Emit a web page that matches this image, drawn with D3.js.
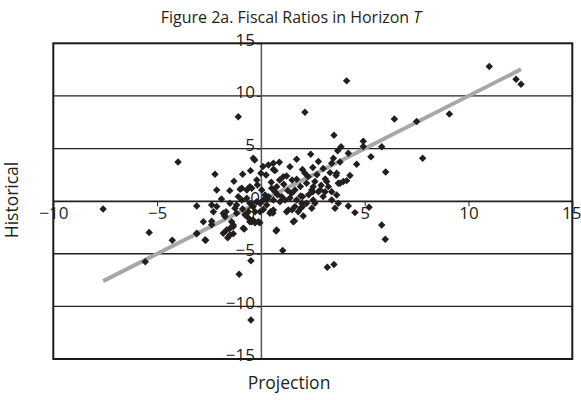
<!DOCTYPE html>
<html><head><meta charset="utf-8">
<script src="https://cdn.jsdelivr.net/npm/d3@7"></script>
<style>body{margin:0;background:#fff}svg{display:block}text{font-family:"Open Sans",sans-serif;fill:#231f20}</style>
</head><body><svg id="c" width="581" height="400"></svg>
<script>
const titleText = "Figure 2a. Fiscal Ratios in Horizon ";
const titleItalic = "T";
const xLabel = "Projection";
const yLabel = "Historical";
const xTicks = [-10, -5, 0, 5, 10, 15];
const yTicks = [-15, -10, -5, 0, 5, 10, 15];
const trendSlope = 1.0;
const trendIntercept = 0.0;
const projection = [
-7.6,-5.38,-5.57,-4.27,-3.99,-3.09,-2.66,-3.09,-2.37,-2.13,-2.77,-2.37,-2.37,-2.21,-2.13,-1.09,2.12,4.13,11.0,12.29,
12.53,9.08,6.43,7.5,7.79,3.52,4.93,4.93,5.82,3.86,3.7,4.21,5.3,4.61,6.01,4.29,3.97,4.13,3.73,-0.48,
-1.05,-0.48,1.05,3.2,3.52,4.21,4.53,5.21,5.82,5.99,0.73,1.61,2.04,-1.76,-1.68,-1.33,-1.5,-1.33,-1.6,-0.8,
-0.53,-0.28,-0.05,-0.88,0.0,-1.0,-0.44,-0.37,-0.3,0.36,0.6,0.89,0.6,1.4,1.72,2.4,2.77,3.49,3.81,3.41,
3.33,3.62,-2.29,-1.81,-1.73,-1.41,-1.33,-1.65,-1.49,-1.81,-2.69,-3.09,0.25,0.68,1.08,1.24,1.72,2.12,2.28,2.6,
2.52,2.45,3.17,3.25,3.41,3.09,3.65,3.81,2.52,2.6,2.01,1.48,1.64,1.0,1.16,0.92,0.52,0.68,0.76,0.36,
0.2,0.12,0.04,-0.17,-0.53,-0.68,-0.92,-1.09,-0.92,-0.68,-0.53,-0.37,-0.28,-0.6,-0.2,-0.04,-0.04,-0.12,-0.44,-0.85,
-1.25,-1.49,-1.17,-0.88,-1.17,-0.77,-0.6,-0.37,0.12,0.47,0.76,1.56,1.32,1.24,1.64,1.8,0.6,0.44,0.28,2.45,
2.2,1.97,1.72,2.85,3.0,3.41,3.65,3.73,3.57,2.0,1.5,1.92,1.92,2.5,2.77,0.58,0.3,0.8,1.3,1.1,
0.5,1.9,2.2,1.5,0.9,0.6,1.4,2.3,2.9,3.1,2.7,2.0,2.5,3.0,0.1,-0.5,-0.2,-1.3,-1.5,-1.9
];
const historical = [
-0.75,-2.99,-5.75,-3.72,3.73,-3.09,-3.72,-0.46,-0.36,-0.5,-1.95,-1.9,-2.25,2.56,1.06,8.03,8.45,11.43,12.79,11.58,
11.11,8.29,7.81,7.56,4.07,6.26,5.69,5.2,5.18,5.18,4.8,4.55,4.23,3.5,2.77,2.43,1.86,1.95,1.7,-5.66,
-6.95,-11.3,-4.7,-6.28,-6.03,-0.46,-1.09,-0.58,-2.26,-3.62,-2.83,-1.88,-1.41,-1.31,-1.0,-2.26,-2.6,-3.1,-3.47,-2.64,
-1.95,-2.05,-2.05,2.56,2.65,1.13,1.22,4.08,3.9,3.44,3.6,3.7,3.0,3.28,3.98,4.46,3.76,4.07,3.73,3.6,
2.71,2.43,-1.0,-1.15,-1.47,-1.95,-2.42,-2.74,-3.21,-3.05,-3.69,-3.05,2.49,2.9,2.33,2.4,2.08,2.65,2.33,1.86,
1.38,1.06,1.86,1.38,0.9,0.9,2.65,1.7,0.11,-0.2,0.43,0.75,1.06,0.43,0.11,-0.05,1.22,0.9,1.38,0.43,
0.59,0.11,1.06,1.54,1.38,1.06,1.22,0.43,0.11,0.27,-0.2,-0.52,-1.0,-1.0,-0.05,-0.2,-1.0,-1.95,-1.95,-2.58,
-0.68,-0.2,-1.15,-0.75,-0.36,-1.3,-1.6,-1.8,-0.8,-1.0,-2.74,-1.95,-0.84,-1.0,-0.52,-1.0,-0.84,-1.15,-0.36,-0.68,
-0.2,-0.2,0.11,1.06,0.43,0.11,0.59,-0.2,-0.68,-0.5,-0.82,-0.68,0.49,0.9,0.9,-1.12,0.2,0.6,1.0,1.6,
1.8,1.4,1.7,2.0,2.0,0.1,0.3,0.6,1.5,2.1,2.5,3.0,3.2,3.1,3.3,2.9,2.0,1.9,1.0,0.2
];

const svg = d3.select("#c");
const m = {l:53.3, r:572.3, t:43.3, b:359};
const x = d3.scaleLinear().domain([-10,15]).range([m.l,m.r]);
const y = d3.scaleLinear().domain([-15,15]).range([m.b,m.t]);
const ink = "#231f20";

// horizontal gridlines
svg.append("g").selectAll("line").data(yTicks.filter(v=>v!==-15&&v!==15)).join("line")
  .attr("x1",m.l).attr("x2",m.r).attr("y1",d=>y(d)).attr("y2",d=>y(d))
  .attr("stroke",ink).attr("stroke-width",1.3);

// trend line
const xe = d3.extent(projection);
svg.append("line")
  .attr("x1",x(xe[0])).attr("y1",y(trendSlope*xe[0]+trendIntercept))
  .attr("x2",x(xe[1])).attr("y2",y(trendSlope*xe[1]+trendIntercept))
  .attr("stroke","#a7a7a7").attr("stroke-width",4);

// x axis at y=0
const xa = svg.append("g").attr("transform",`translate(0,${y(0)})`)
  .call(d3.axisBottom(x).tickValues(xTicks).tickFormat(d3.format("")).tickSize(5).tickPadding(1).tickSizeOuter(0));
xa.select(".domain").attr("stroke",ink).attr("stroke-width",1.3);
xa.selectAll(".tick line").attr("stroke",ink);
xa.selectAll(".tick text").style("font-size","17px").attr("fill",ink).attr("font-family","Open Sans");
xa.selectAll(".tick").filter(d=>d===0).select("text").attr("dx",-11);
xa.selectAll(".tick").filter(d=>d===15).select("text").attr("dx",-1);

// y axis at x=0
const ya = svg.append("g").attr("transform",`translate(${x(0)},0)`)
  .call(d3.axisLeft(y).tickValues(yTicks).tickFormat(d3.format("")).tickSize(4).tickPadding(2).tickSizeOuter(0));
ya.select(".domain").attr("stroke","#555").attr("stroke-width",1.5);
ya.selectAll(".tick line").attr("stroke",ink);
ya.selectAll(".tick text").style("font-size","17px").attr("fill",ink).attr("dy","0.11em").attr("font-family","Open Sans");
ya.selectAll(".tick").filter(d=>d===0).select("text").attr("dx",5);

// points
const pts = projection.map((p,i)=>[p,historical[i]]);
svg.append("g").selectAll("path").data(pts).join("path")
  .attr("d",d3.symbol(d3.symbolSquare).size(28))
  .attr("transform",d=>`translate(${x(d[0])},${y(d[1])}) rotate(45)`)
  .attr("fill",ink);

// border
svg.append("rect").attr("x",m.l).attr("y",m.t).attr("width",m.r-m.l).attr("height",m.b-m.t)
  .attr("fill","none").attr("stroke","#1a1a1a").attr("stroke-width",2);

// title
const t = svg.append("text").attr("x",291).attr("y",23).attr("text-anchor","middle").style("font-size","16px").style("font-weight","500");
t.append("tspan").text(titleText);
t.append("tspan").attr("font-style","italic").text(titleItalic);

svg.append("text").attr("x",289).attr("y",389).attr("text-anchor","middle").style("font-size","17.5px").text(xLabel);
svg.append("text").attr("transform","translate(18,200) rotate(-90)").attr("text-anchor","middle").style("font-size","17.5px").text(yLabel);
</script></body></html>
